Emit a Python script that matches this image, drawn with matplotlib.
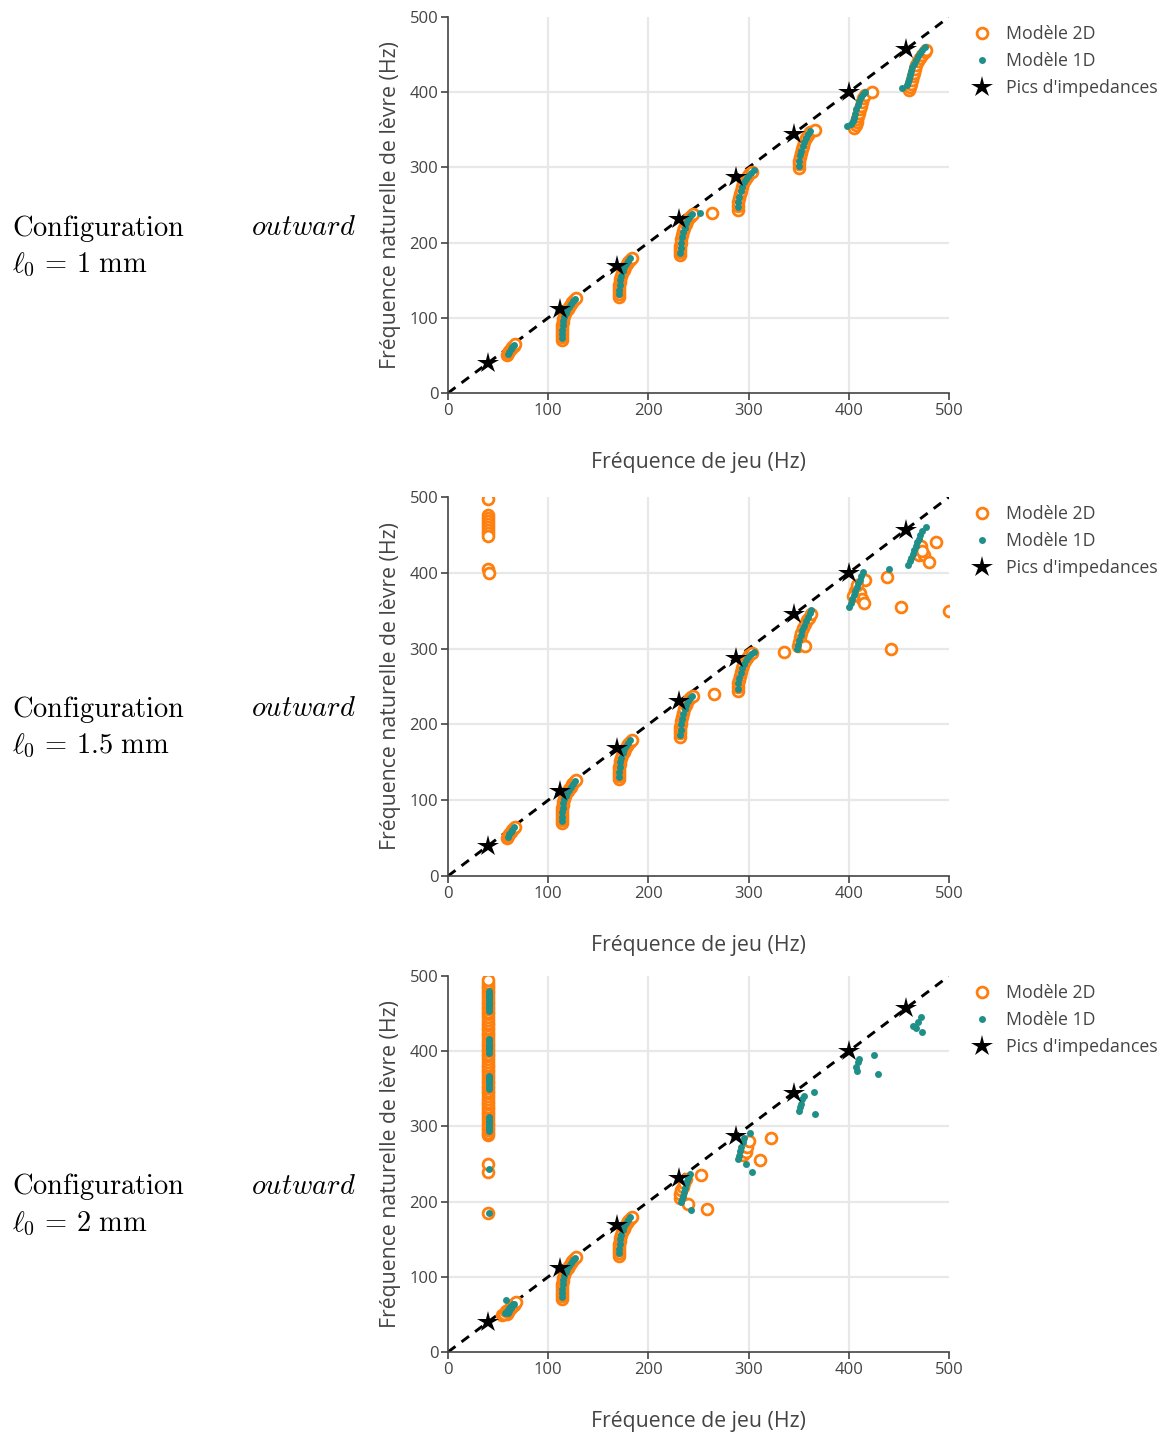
import numpy as np
import matplotlib
matplotlib.use("Agg")
import matplotlib.pyplot as plt
from matplotlib.lines import Line2D

plt.rcParams['font.family'] = ['Open Sans', 'DejaVu Sans']
plt.rcParams['mathtext.fontset'] = 'cm'

# ---------------- data (Hz) ----------------
star_f = [40, 112, 169, 231, 287, 345, 400, 457]

# clusters 1-3, common to the three configurations
low_2d_x = [59, 60, 61, 62.5, 64, 65.5, 66.5,
            114, 113.5, 113.5, 113.5, 114, 114, 114.5, 115, 116, 117, 118, 119.5, 121, 122.5, 124, 126, 127.5,
            171, 170.5, 170.5, 171, 171, 171.5, 172, 173, 174, 175.5, 177, 178.5, 180, 182, 184]
low_2d_y = [50, 53, 56, 58.5, 61, 63, 65,
            70, 74, 78, 82, 86, 90, 94, 98, 102, 106, 109, 112, 115, 118, 121, 124, 126,
            128, 132, 136, 140, 144, 148, 152, 156, 160, 164, 168, 171, 174, 177, 180]
low_1d_x = [60, 61, 62.5, 64, 66,
            114, 114, 114, 114.5, 115, 116, 117.5, 119, 121, 123, 125, 126.5,
            171, 171, 171.5, 172, 173, 174.5, 176, 178, 180, 182]
low_1d_y = [52, 55, 58, 61, 64,
            73, 78, 84, 90, 96, 101, 106, 110, 114, 118, 122, 125,
            131, 137, 144, 150, 156, 162, 167, 171, 175, 179]

# clusters 4-5, configurations 1 mm and 1.5 mm
mid_2d_x = [232, 231.5, 232, 232, 232.5, 233, 234, 235, 236, 237.5, 239, 241, 243, 245,
            289, 289, 289.5, 290, 291, 292, 293, 294.5, 296, 298, 300, 303]
mid_2d_y = [184, 188, 192, 196, 200, 205, 210, 215, 220, 225, 229, 233, 236, 238,
            244, 249, 254, 259, 264, 269, 274, 279, 283, 287, 291, 294]
mid_1d_x = [232, 232.5, 233, 234, 235, 236.5, 238, 240, 242, 244,
            289, 289.5, 290.5, 292, 293.5, 295, 297, 299, 302, 305]
mid_1d_y = [186, 193, 200, 207, 214, 220, 226, 231, 235, 238,
            247, 254, 261, 268, 274, 280, 285, 289, 293, 296]

# l0 = 1 mm, clusters 6-8 + outliers
p1_2d_x = [263,
           350, 350, 350.5, 351, 352, 353, 354, 355.5, 357, 359, 361, 366,
           405, 407, 408, 408.5, 409, 410, 411, 412, 413, 414.5, 416, 423,
           460, 461, 462, 463, 464, 465, 466, 467.5, 469, 471, 473, 476, 477]
p1_2d_y = [239,
           299, 304, 309, 314, 319, 324, 329, 334, 339, 343, 347, 350,
           353, 356, 360, 364, 368, 372, 377, 382, 387, 392, 396, 400,
           403, 407, 411, 416, 421, 426, 431, 436, 441, 446, 450, 453, 456]
p1_1d_x = [251,
           350, 350.5, 351.5, 352.5, 354, 355.5, 357, 359, 361,
           398, 402, 404, 405, 406, 407.5, 409, 410.5, 412, 414, 416,
           453, 458, 459, 460, 461, 462, 463.5, 465, 467, 469, 471, 473, 476]
p1_1d_y = [240,
           302, 309, 316, 322, 328, 334, 339, 344, 349,
           355, 358, 362, 366, 371, 377, 383, 388, 393, 397, 400,
           405, 409, 413, 418, 423, 428, 433, 438, 443, 448, 452, 456, 460]

# l0 = 1.5 mm
p2_2d_x = [39.5, 40, 40, 40, 40, 40, 40, 40, 40, 39.5, 40.5,
           265, 335,
           349, 350, 351, 352.5, 354, 356, 358, 360, 362, 356.5,
           406, 411, 413, 415, 416, 404, 408,
           438, 452, 442, 500,
           472.5, 470, 475, 480, 487.5, 473]
p2_2d_y = [497, 476, 472, 468, 464, 460, 456, 452, 448, 405, 400,
           240, 295,
           303, 309, 315, 321, 327, 333, 338, 341, 346, 304,
           376, 374, 365, 360, 390, 370, 384,
           395, 355, 300, 350,
           436, 424, 423, 414, 440, 429]
p2_1d_x = [348, 349, 350.5, 352, 353.5, 355, 357, 359, 361, 362,
           400, 402, 403.5, 405, 406.5, 408, 409.5, 411, 412.5, 414,
           440,
           459.5, 461, 462.5, 464, 465.5, 467, 468.5, 470, 471.5, 473, 477.5]
p2_1d_y = [299, 305, 312, 318, 324, 330, 336, 342, 347, 351,
           355, 360, 366, 371, 376, 381, 386, 391, 396, 401,
           405,
           410, 415, 420, 425, 430, 435, 440, 445, 450, 455, 461]

# l0 = 2 mm
col_x = 40
p3_col_2d_y = [185, 240, 250,
               288, 291, 295, 298, 302, 305, 309, 312, 316, 319, 323, 326, 330, 333, 337, 340,
               344, 347, 351, 354, 358, 361, 365, 368, 372, 375, 379, 382, 386, 389, 393, 396,
               400, 403, 407, 410, 414, 417, 421, 424, 428, 431, 435, 438, 442, 445, 449, 452,
               456, 459, 463, 466, 470, 473, 477, 480, 484, 487, 491, 495]
p3_col_1d_y = [185, 244,
               294, 297, 300, 303, 306, 309, 312,
               350, 353, 356, 359, 362, 365, 367,
               398, 401, 404, 407, 410, 413, 416,
               454, 457, 460, 463, 466, 469, 472, 475, 478, 480]
p3_2d_x = [54, 56, 58, 60, 62, 64, 66, 68,
           231.5, 232, 233, 234.5, 236, 237.5, 239.5, 252, 258.5,
           294.5, 297, 298.5, 300, 311.5, 322.5]
p3_2d_y = [49, 51, 54, 56, 58.5, 61, 63, 66,
           205, 210, 215, 220, 225, 230, 197, 235, 190,
           262, 266, 272, 280, 255, 285]
p3_1d_x = [57, 59, 61, 63, 65, 58,
           233, 233.5, 234.5, 235.5, 236.5, 237.5, 238.5, 240, 241.5, 242.5,
           289, 290, 291, 292.5, 294, 295.5, 301, 297, 303,
           350, 351, 352, 353.5, 355, 365, 366,
           407, 408.5, 409, 410.5, 425.5, 429.5,
           464, 467, 469, 472, 473]
p3_1d_y = [52, 55, 58, 61, 64, 69.5,
           199, 203, 208, 213, 218, 223, 228, 232, 237, 189,
           256, 261, 267, 273, 279, 285, 291, 250, 240,
           321, 326, 330, 336, 341, 346, 316,
           379, 374, 385, 390, 395, 370,
           434, 431, 439, 446, 425]

panels = [
    (r'$\ell_0 \,=\, 1\ \mathrm{mm}$',
     low_2d_x + mid_2d_x + p1_2d_x, low_2d_y + mid_2d_y + p1_2d_y,
     low_1d_x + mid_1d_x + p1_1d_x, low_1d_y + mid_1d_y + p1_1d_y),
    (r'$\ell_0 \,=\, 1.5\ \mathrm{mm}$',
     low_2d_x + mid_2d_x + p2_2d_x, low_2d_y + mid_2d_y + p2_2d_y,
     low_1d_x + mid_1d_x + p2_1d_x, low_1d_y + mid_1d_y + p2_1d_y),
    (r'$\ell_0 \,=\, 2\ \mathrm{mm}$',
     low_2d_x + p3_2d_x + [col_x] * len(p3_col_2d_y), low_2d_y + p3_2d_y + p3_col_2d_y,
     low_1d_x + p3_1d_x + [col_x + 0.5] * len(p3_col_1d_y), low_1d_y + p3_1d_y + p3_col_1d_y),
]

ORANGE = '#ff7f0e'
TEAL = '#1f8f8a'
AXC = '#444444'
GRIDC = '#e8e8e8'

W, H = 1165, 1432
fig = plt.figure(figsize=(W / 100, H / 100), dpi=100)

# axes boxes in pixels: top, bottom
boxes = [(17, 393), (497, 876), (976, 1352)]
left_px, right_px = 448, 949

for (label, x2, y2, x1, y1), (top, bot) in zip(panels, boxes):
    ax = fig.add_axes([left_px / W, 1 - bot / H, (right_px - left_px) / W, (bot - top) / H])
    ax.set_xlim(0, 500)
    ax.set_ylim(0, 500)
    for v in [100, 200, 300, 400]:
        ax.axvline(v, color=GRIDC, lw=1.6, zorder=0)
        ax.axhline(v, color=GRIDC, lw=1.6, zorder=0)
    ax.plot([0, 500], [0, 500], ls=(0, (3.2, 2.6)), color='black', lw=2.1, zorder=2)

    ax.plot(x2, y2, 'o', ls='none', ms=7.8, mfc='white', mec=ORANGE, mew=2, zorder=3)
    ax.plot(x1, y1, 'o', ls='none', ms=5, color=TEAL, mew=0, zorder=4)
    ax.plot(star_f, star_f, '*', ls='none', ms=16, color='black', mew=0, zorder=5)

    for s in ['top', 'right']:
        ax.spines[s].set_visible(False)
    for s in ['left', 'bottom']:
        ax.spines[s].set_color(AXC)
        ax.spines[s].set_linewidth(1.2)
    ax.set_xticks(range(0, 501, 100))
    ax.set_yticks(range(0, 501, 100))
    ax.tick_params(direction='out', length=5, width=1.2, color=AXC,
                   labelcolor=AXC, labelsize=12, pad=2)
    ax.set_xlabel('Fréquence de jeu (Hz)', fontsize=15.3, color=AXC, labelpad=24)
    ax.set_ylabel('Fréquence naturelle de lèvre (Hz)', fontsize=15.3, color=AXC, labelpad=6)

    handles = [
        Line2D([], [], marker='o', ls='none', ms=7.8, mfc='white', mec=ORANGE, mew=2),
        Line2D([], [], marker='o', ls='none', ms=5, color=TEAL, mew=0),
        Line2D([], [], marker='*', ls='none', ms=16, color='black', mew=0),
    ]
    ax.legend(handles, ['Modèle 2D', 'Modèle 1D', "Pics d'impedances"],
              loc='upper left', bbox_to_anchor=(1.024, 1.006), frameon=False,
              fontsize=12.8, handlelength=1.2, handletextpad=0.75,
              labelspacing=0.5, borderaxespad=0.2, labelcolor=AXC)

    yc = 1 - (top + bot) / 2 / H
    fig.text(12 / W, yc - 23 / H, r'$\mathrm{Configuration}$', fontsize=20.5,
             ha='left', va='center')
    fig.text(12 / W, yc - 60 / H, label, fontsize=20.5, ha='left', va='center')
    fig.text(356 / W, yc - 23 / H, r'$\mathit{outward}$', fontsize=20.5,
             ha='right', va='center')

fig.savefig('out.png', dpi=100)
